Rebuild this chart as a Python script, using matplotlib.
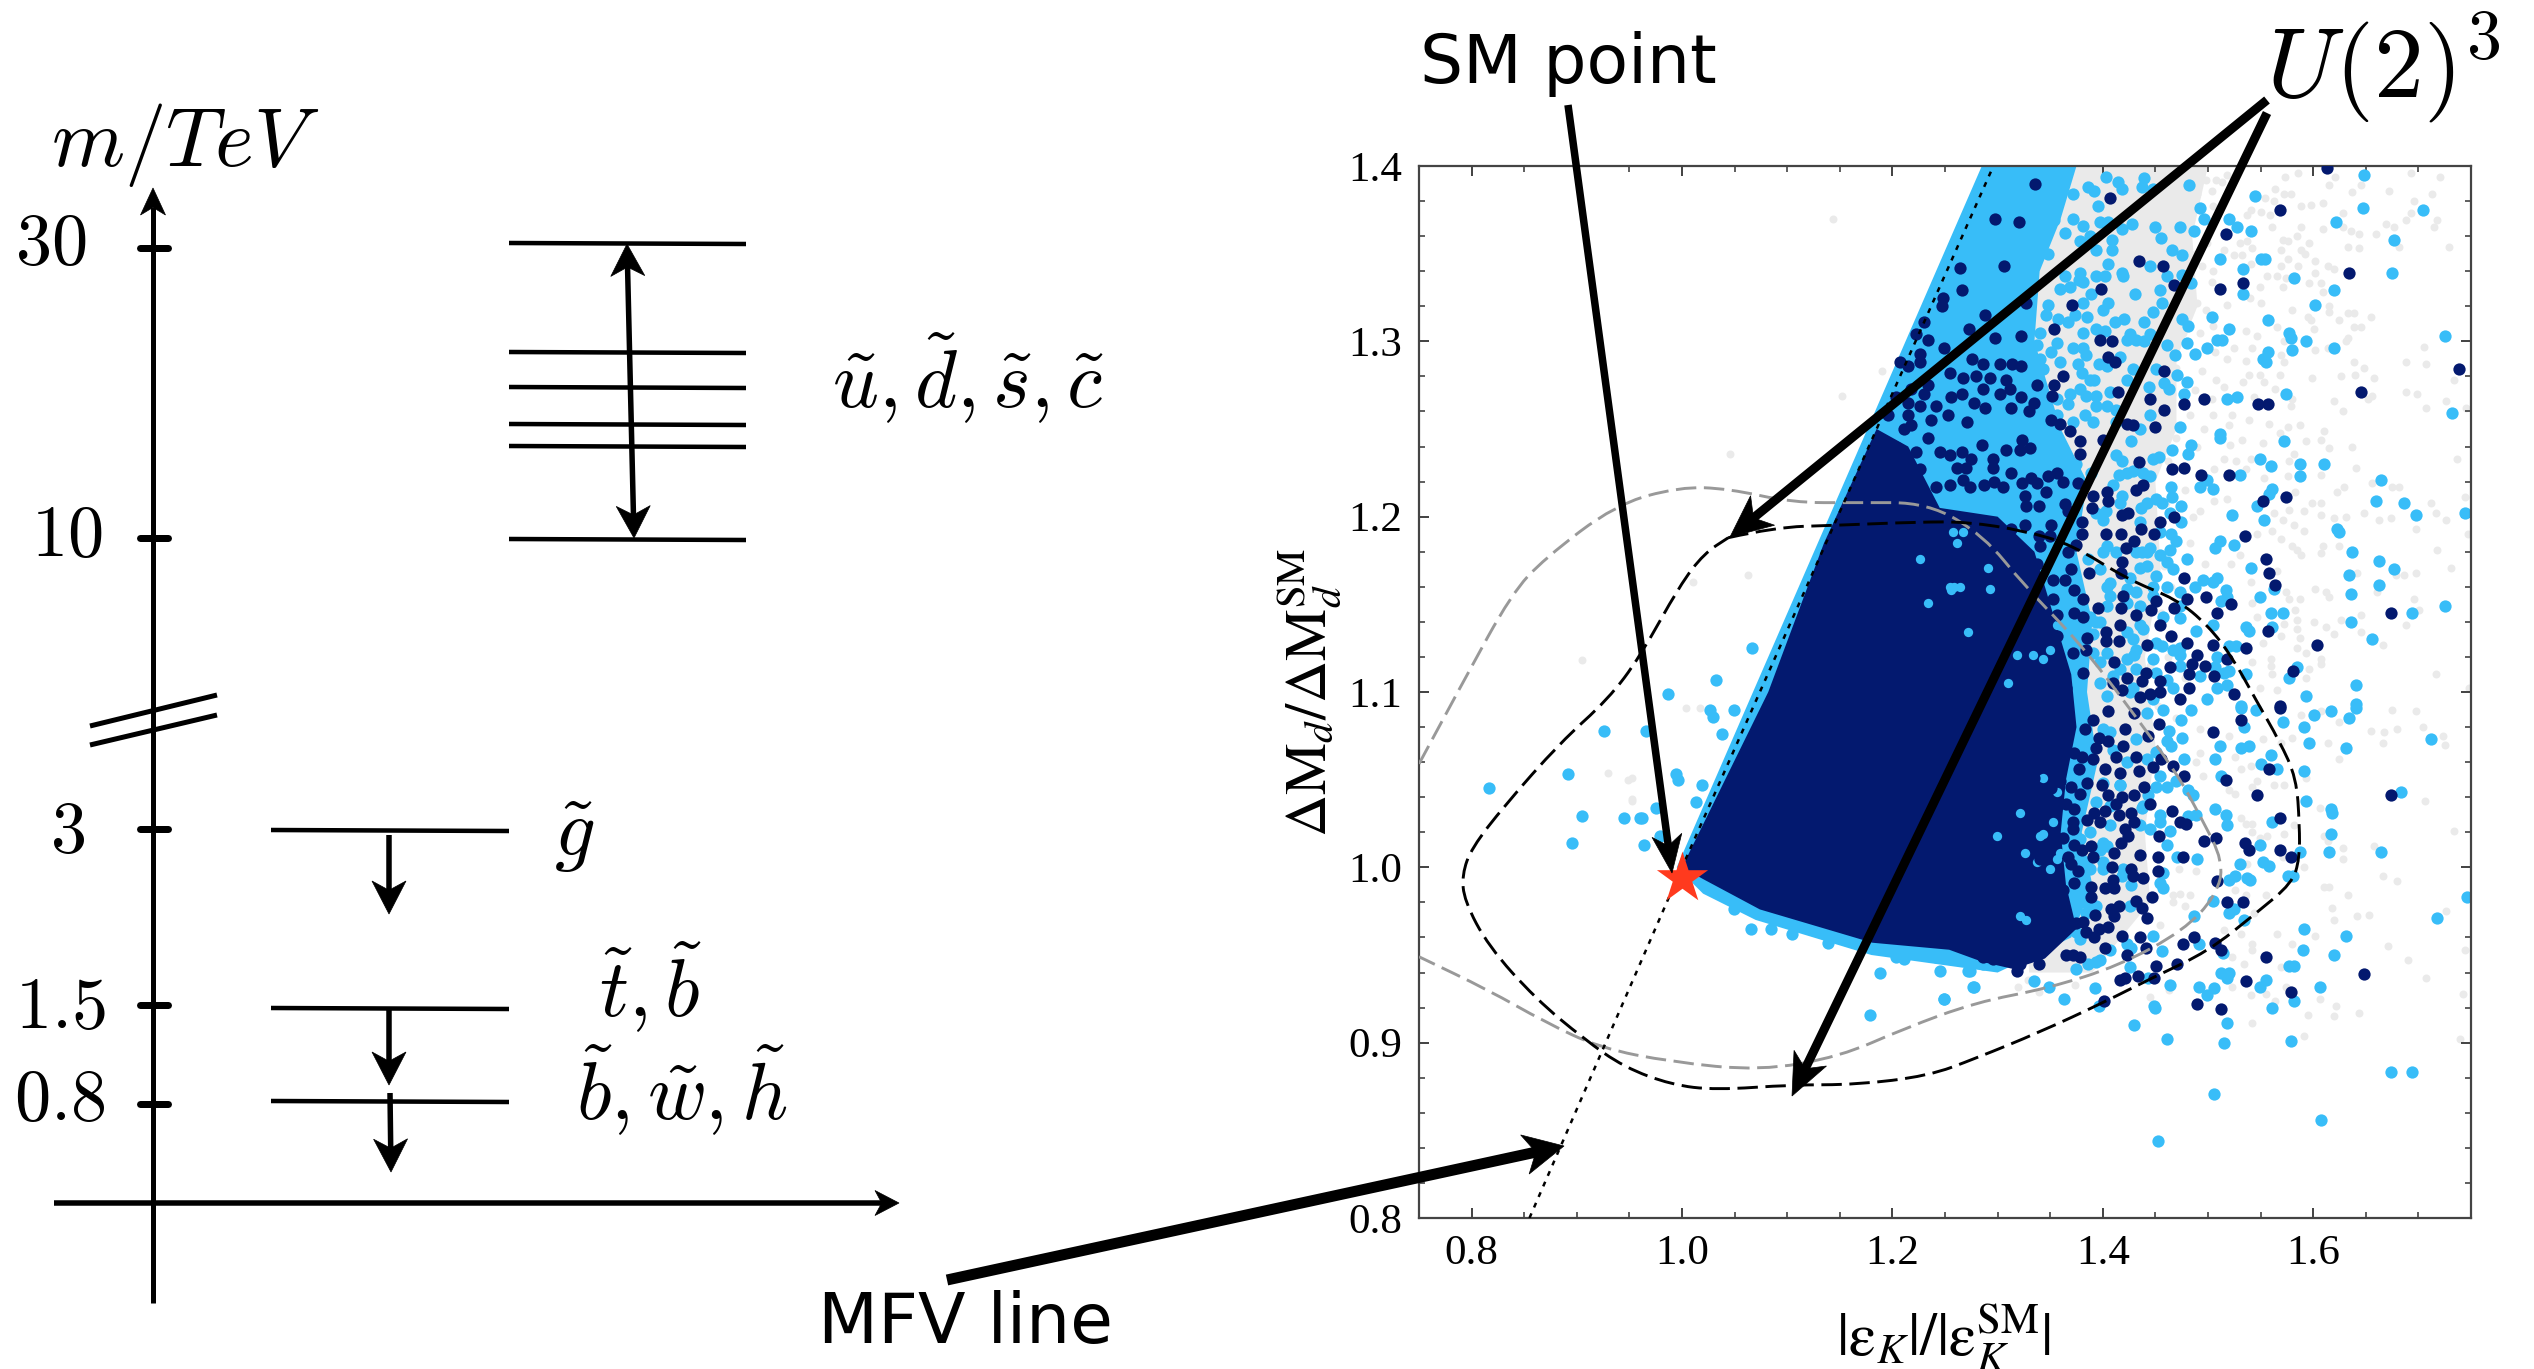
import numpy as np
import matplotlib
matplotlib.use('Agg')
import matplotlib.pyplot as plt
from matplotlib.patches import Polygon, PathPatch
from matplotlib.path import Path

plt.rcParams['font.family'] = ['Liberation Serif', 'DejaVu Sans']
plt.rcParams['mathtext.fontset'] = 'stix'

# ---------- spectrum data (left panel, mass levels in picture rows) ----------
mass_tick_labels = ['30', '10', '3', '1.5', '0.8']
mass_tick_rows = [248, 538, 829, 1005, 1104]
squark_levels = [243, 352, 387, 424, 446, 539]
light_levels = [830, 1008, 1101]

# ---------- scan: dense regions (outlines) ----------
gray_region = [(1.285,1.40),(1.50,1.40),(1.485,1.36),(1.49,1.32),(1.47,1.29),(1.47,1.25),(1.45,1.22),(1.455,1.17),(1.44,1.12),
               (1.45,1.07),(1.44,1.02),(1.445,0.98),(1.39,0.94),(1.33,0.94)]
blue_region = [(0.995,1.0),(1.285,1.40),(1.375,1.40),(1.36,1.37),(1.34,1.34),(1.335,1.30),(1.36,1.25),
               (1.385,1.22),(1.375,1.18),(1.39,1.14),(1.385,1.10),(1.395,1.06),(1.38,1.02),(1.39,0.99),(1.37,0.96),
               (1.30,0.94),(1.18,0.95),(1.07,0.97),(1.02,0.985)]
navy_region = [(1.0,1.0),(1.082,1.10),(1.135,1.185),(1.185,1.25),(1.215,1.24),(1.245,1.205),(1.30,1.20),(1.335,1.18),
               (1.35,1.15),(1.37,1.11),(1.375,1.08),(1.365,1.05),(1.36,1.02),(1.365,0.99),(1.375,0.965),
               (1.345,0.948),(1.315,0.942),(1.286,0.946),(1.254,0.953),(1.181,0.957),(1.074,0.976),(1.021,0.993)]

# ---------- scan: individual points ----------
blue_holes = [(1.264,1.160),(1.293,1.159),(1.291,1.171),(1.255,1.160),(1.256,1.158),(1.226,1.176),(1.234,1.151),
              (1.343,1.051),(1.356,1.043),(1.321,1.031),(1.343,1.019),(1.326,1.008),(1.356,1.005),(1.337,1.003),
              (1.359,1.008),(1.350,0.999),(1.327,0.970),(1.321,0.972),(1.353,1.026),(1.340,1.018),
              (1.258,1.191),(1.267,1.191),(1.261,1.185),(1.259,1.160),(1.272,1.134),(1.318,1.121),(1.334,1.121),
              (1.343,1.119),(1.350,1.124),(1.310,1.105),(1.362,1.147),(1.356,1.138),(1.299,1.018)]

navy_dots = [
(1.215,1.286),(1.226,1.288),(1.207,1.288),(1.218,1.273),(1.234,1.275),(1.226,1.263),(1.215,1.265),(1.241,1.263),
(1.218,1.252),(1.237,1.255),(1.234,1.245),(1.222,1.237),(1.245,1.237),(1.226,1.227),(1.241,1.217),(1.226,1.217),
(1.203,1.268),(1.196,1.258),(1.211,1.250),(1.203,1.240),(1.215,1.258),(1.230,1.270),(1.234,1.301),(1.226,1.293),
(1.222,1.304),(1.230,1.311),
(1.336,1.390),(1.407,1.382),(1.298,1.370),(1.320,1.368),(1.264,1.342),(1.306,1.343),(1.266,1.329),(1.434,1.346),
(1.457,1.343),(1.468,1.332),(1.398,1.330),(1.371,1.321),(1.327,1.322),(1.288,1.315),(1.273,1.307),(1.298,1.302),
(1.322,1.303),(1.354,1.307),(1.397,1.301),(1.409,1.300),(1.405,1.291),(1.412,1.288),(1.276,1.290),(1.302,1.287),
(1.314,1.287),(1.322,1.286),(1.286,1.287),(1.362,1.280),(1.458,1.283),(1.255,1.282),(1.267,1.279),(1.279,1.280),
(1.293,1.279),(1.308,1.278),(1.337,1.275),(1.354,1.275),(1.352,1.269),(1.414,1.271),(1.445,1.267),(1.496,1.267),
(1.477,1.264),(1.458,1.261),(1.286,1.273),(1.302,1.270),(1.312,1.273),(1.322,1.268),(1.335,1.265),(1.278,1.265),
(1.288,1.262),(1.313,1.262),(1.330,1.260),(1.256,1.268),(1.266,1.270),(1.253,1.258),(1.271,1.254),(1.351,1.255),
(1.359,1.253),(1.423,1.253),(1.429,1.252),(1.450,1.251),(1.369,1.249),(1.248,1.325),(1.247,1.320),(1.249,1.296),
(1.613,1.399),(1.568,1.375),(1.517,1.361),(1.634,1.339),(1.533,1.333),(1.511,1.330),(1.739,1.284),(1.645,1.271),
(1.548,1.264),(1.557,1.264),
(1.266,1.237),(1.255,1.235),(1.275,1.233),(1.285,1.241),(1.296,1.233),(1.308,1.238),(1.321,1.238),(1.331,1.239),
(1.323,1.244),(1.378,1.243),(1.378,1.236),(1.400,1.244),(1.434,1.231),(1.466,1.227),(1.477,1.228),(1.493,1.224),
(1.261,1.228),(1.270,1.228),(1.296,1.228),(1.313,1.225),(1.332,1.222),(1.348,1.223),(1.356,1.225),(1.362,1.220),
(1.376,1.219),(1.267,1.221),(1.255,1.218),(1.274,1.217),(1.287,1.218),(1.297,1.220),(1.305,1.217),(1.323,1.219),
(1.337,1.219),(1.346,1.214),(1.391,1.212),(1.404,1.214),(1.405,1.209),(1.432,1.215),(1.438,1.218),(1.326,1.212),
(1.339,1.206),(1.327,1.206),(1.364,1.207),(1.367,1.203),(1.390,1.205),(1.418,1.201),(1.424,1.202),(1.468,1.200),
(1.454,1.197),(1.436,1.193),(1.449,1.190),(1.403,1.190),(1.417,1.190),(1.430,1.186),(1.422,1.182),(1.380,1.190),
(1.380,1.197),(1.351,1.195),(1.326,1.195),(1.339,1.189),(1.350,1.189),(1.340,1.183),(1.375,1.184),(1.367,1.180),
(1.313,1.193),(1.315,1.185),(1.326,1.177),(1.337,1.173),(1.320,1.172),(1.370,1.170),(1.387,1.168),(1.417,1.168),
(1.418,1.174),(1.477,1.165),(1.498,1.154),(1.480,1.153),(1.451,1.152),(1.419,1.155),(1.353,1.164),(1.364,1.164),
(1.373,1.158),(1.381,1.153),(1.395,1.148),(1.417,1.148),(1.446,1.147),(1.468,1.148),(1.432,1.144),(1.373,1.145),
(1.381,1.143),(1.353,1.153),(1.356,1.144),(1.416,1.138),(1.454,1.138),(1.465,1.132),(1.403,1.134),(1.403,1.129),
(1.385,1.131),(1.415,1.129),(1.442,1.127),(1.480,1.128),(1.490,1.121),(1.356,1.132),(1.372,1.122),(1.384,1.124),
(1.356,1.119),(1.411,1.117),(1.464,1.114),(1.485,1.116),(1.497,1.115),(1.381,1.111),(1.441,1.111),(1.482,1.110),
(1.423,1.108),(1.437,1.106),(1.454,1.106),(1.410,1.105),(1.418,1.101),(1.454,1.100),(1.473,1.096),(1.482,1.102),
(1.435,1.097),(1.445,1.099),(1.365,1.102),
(1.520,1.224),(1.552,1.209),(1.574,1.211),(1.535,1.189),(1.555,1.176),(1.558,1.168),(1.564,1.161),(1.522,1.150),
(1.509,1.145),(1.557,1.135),(1.604,1.127),(1.674,1.145),(1.536,1.125),(1.505,1.127),(1.518,1.119),(1.581,1.112),
(1.506,1.109),(1.525,1.099),(1.568,1.092),
(1.354,1.089),(1.365,1.084),(1.365,1.079),(1.383,1.079),(1.391,1.084),(1.405,1.089),(1.430,1.088),(1.443,1.075),
(1.453,1.082),(1.421,1.079),(1.396,1.074),(1.405,1.072),(1.394,1.068),(1.419,1.069),(1.373,1.065),(1.380,1.063),
(1.432,1.063),(1.448,1.057),(1.455,1.062),(1.467,1.058),(1.477,1.052),(1.391,1.062),(1.402,1.056),(1.377,1.056),
(1.413,1.063),(1.416,1.054),(1.434,1.055),(1.335,1.051),(1.359,1.049),(1.385,1.048),(1.399,1.047),(1.439,1.046),
(1.351,1.045),(1.370,1.046),(1.337,1.042),(1.378,1.042),(1.405,1.041),(1.418,1.040),(1.430,1.041),(1.413,1.036),
(1.445,1.036),(1.365,1.036),(1.346,1.035),(1.373,1.033),(1.402,1.032),(1.392,1.031),(1.466,1.032),(1.415,1.030),
(1.427,1.031),(1.473,1.026),(1.479,1.025),(1.430,1.026),(1.372,1.026),(1.385,1.027),(1.397,1.026),(1.372,1.022),
(1.421,1.022),(1.424,1.018),(1.453,1.018),(1.496,1.015),(1.362,1.017),(1.373,1.013),(1.380,1.010),(1.389,1.012),
(1.417,1.014),(1.411,1.008),(1.391,1.006),(1.367,1.006),(1.340,1.005),(1.435,1.007),(1.452,1.006),(1.476,1.006),
(1.370,1.002),(1.376,0.998),(1.409,1.000),(1.427,0.999),(1.452,0.998),(1.340,0.994),(1.350,0.993),(1.429,0.995),
(1.438,0.994),(1.373,0.991),(1.410,0.993),(1.389,0.989),(1.402,0.988),(1.411,0.988),(1.362,0.987),(1.340,0.984),
(1.389,0.983),(1.447,0.983),(1.432,0.981),(1.415,0.978),(1.437,0.977),(1.408,0.976),(1.393,0.973),(1.411,0.972),
(1.442,0.971),(1.353,0.974),(1.375,0.968),(1.381,0.969),(1.396,0.965),(1.405,0.966),(1.384,0.963),(1.418,0.961),
(1.435,0.960),(1.487,0.960),(1.402,0.954),(1.392,0.960),(1.441,0.954),(1.476,0.956),(1.423,0.950),(1.372,0.950),
(1.365,0.950),(1.378,0.949),(1.331,0.950),(1.286,0.949),(1.296,0.948),(1.321,0.945),(1.318,0.941),(1.339,0.945),
(1.451,0.944),(1.471,0.945),
(1.568,1.091),(1.531,1.084),(1.505,1.077),(1.558,1.056),(1.517,1.050),(1.547,1.041),(1.674,1.041),(1.568,1.028),
(1.508,1.017),(1.535,1.014),(1.539,1.010),(1.568,1.010),(1.579,1.006),(1.509,0.992),(1.518,0.980),(1.533,0.980),
(1.507,0.957),(1.512,0.953),(1.555,0.949),(1.648,0.939),
(1.416,0.936),(1.421,0.937),(1.433,0.938),(1.449,0.937),(1.401,0.924),(1.490,0.922),(1.536,0.935),(1.579,0.929),
(1.512,0.919)]

blue_dots = [
(1.389,1.225),(1.410,1.218),(1.423,1.225),(1.438,1.225),(1.416,1.208),(1.394,1.202),(1.442,1.208),(1.456,1.208),
(1.464,1.202),(1.435,1.197),(1.454,1.191),(1.404,1.183),(1.432,1.180),(1.442,1.180),(1.413,1.180),(1.454,1.178),
(1.397,1.170),(1.442,1.172),(1.461,1.174),(1.404,1.160),(1.423,1.159),(1.448,1.160),(1.461,1.160),(1.378,1.151),
(1.388,1.143),(1.404,1.149),(1.423,1.151),(1.435,1.149),(1.448,1.155),(1.457,1.143),(1.473,1.149),(1.435,1.138),
(1.397,1.140),(1.423,1.134),(1.451,1.128),(1.467,1.124),(1.432,1.124),(1.391,1.122),(1.397,1.117),(1.423,1.119),
(1.448,1.119),(1.473,1.121),(1.461,1.107),(1.432,1.113),(1.416,1.113),(1.397,1.105),(1.404,1.098),(1.448,1.096),
(1.467,1.102),(1.429,1.102),
(1.400,1.079),(1.407,1.077),(1.432,1.073),(1.410,1.067),(1.423,1.060),(1.442,1.062),(1.400,1.048),(1.416,1.047),
(1.438,1.035),(1.394,1.037),(1.407,1.035),(1.388,1.020),(1.407,1.024),(1.435,1.024),(1.397,1.010),(1.404,1.012),
(1.384,1.003),(1.400,1.003),(1.419,0.999),(1.381,0.993),(1.457,0.997),(1.384,0.980),(1.394,0.978),(1.426,0.978),
(1.384,0.974),(1.378,0.959),(1.407,0.953),(1.394,0.946),
(1.337,1.381),(1.372,1.384),(1.337,1.368),(1.388,1.360),(1.419,1.337),(1.381,1.334),(1.394,1.337),(1.423,1.301),
(1.432,1.301),(1.356,1.299),(1.340,1.290),(1.331,1.286),(1.343,1.284),(1.359,1.288),(1.384,1.292),(1.404,1.286),
(1.423,1.278),(1.388,1.278),(1.340,1.267),(1.356,1.267),(1.384,1.269),(1.394,1.263),(1.413,1.261),(1.337,1.256),
(1.372,1.254),(1.391,1.254),(1.413,1.254),(1.435,1.250),
(1.545,1.383),(1.648,1.395),(1.647,1.376),(1.704,1.375),(1.520,1.370),(1.528,1.365),(1.541,1.363),(1.622,1.368),
(1.677,1.358),(1.511,1.347),(1.550,1.347),(1.554,1.347),(1.533,1.341),(1.582,1.336),(1.675,1.339),(1.533,1.327),
(1.620,1.329),(1.602,1.321),(1.504,1.314),(1.557,1.312),(1.520,1.307),(1.577,1.305),(1.579,1.302),(1.725,1.303),
(1.593,1.300),(1.509,1.301),(1.513,1.301),(1.557,1.294),(1.580,1.295),(1.620,1.296),(1.552,1.290),(1.555,1.288),
(1.574,1.270),(1.518,1.267),(1.528,1.268),(1.732,1.259),(1.511,1.247),
(1.403,1.394),(1.414,1.391),(1.418,1.387),(1.439,1.393),(1.437,1.388),(1.448,1.387),(1.482,1.389),(1.386,1.388),
(1.392,1.386),(1.395,1.377),(1.492,1.376),(1.496,1.370),(1.473,1.365),(1.487,1.363),(1.450,1.365),(1.455,1.359),
(1.428,1.367),(1.397,1.368),(1.405,1.368),(1.418,1.364),(1.372,1.370),(1.381,1.366),(1.364,1.362),(1.354,1.369),
(1.343,1.362),(1.378,1.357),(1.394,1.352),(1.409,1.358),(1.409,1.352),(1.348,1.350),(1.466,1.352),(1.475,1.349),
(1.405,1.344),(1.445,1.343),(1.418,1.339),(1.402,1.337),(1.378,1.339),(1.364,1.337),(1.377,1.335),(1.461,1.337),
(1.475,1.338),(1.484,1.333),(1.454,1.329),(1.431,1.327),(1.359,1.330),(1.369,1.331),(1.389,1.327),(1.381,1.322),
(1.405,1.322),(1.400,1.318),(1.456,1.322),(1.448,1.317),(1.385,1.314),(1.348,1.321),(1.346,1.315),(1.357,1.313),
(1.374,1.315),(1.367,1.311),(1.412,1.311),(1.420,1.313),(1.439,1.311),(1.475,1.313),(1.481,1.309),(1.381,1.305),
(1.394,1.307),(1.402,1.306),(1.426,1.304),(1.445,1.304),(1.439,1.300),(1.461,1.298),(1.480,1.299),(1.499,1.296),
(1.488,1.293),(1.469,1.292),(1.372,1.296),(1.381,1.296),(1.340,1.305),(1.337,1.298),(1.351,1.294),(1.376,1.287),
(1.396,1.287),(1.429,1.284),(1.416,1.291),(1.451,1.284),(1.471,1.281),(1.480,1.277),(1.458,1.276),(1.463,1.273),
(1.477,1.270),(1.444,1.274),(1.380,1.282),(1.392,1.278),(1.407,1.271),(1.378,1.273),(1.369,1.270),(1.394,1.269),
(1.367,1.264),(1.404,1.263),(1.383,1.258),(1.445,1.258),(1.473,1.251),(1.356,1.258),(1.321,1.256),
(1.354,1.243),(1.348,1.236),(1.365,1.232),(1.327,1.230),(1.375,1.230),(1.413,1.235),(1.418,1.232),(1.448,1.233),
(1.453,1.234),(1.427,1.243),(1.466,1.238),(1.481,1.236),(1.484,1.241),(1.429,1.226),(1.415,1.224),(1.445,1.223),
(1.499,1.221),(1.465,1.217),(1.492,1.217),(1.451,1.210),(1.466,1.211),(1.418,1.212),(1.474,1.206),(1.436,1.205),
(1.403,1.203),(1.400,1.198),(1.474,1.197),(1.465,1.190),(1.470,1.186),(1.445,1.182),(1.400,1.180),(1.437,1.180),
(1.464,1.181),(1.480,1.176),(1.467,1.170),(1.451,1.166),(1.435,1.171),(1.426,1.165),(1.407,1.162),(1.386,1.176),
(1.495,1.164),(1.488,1.160),(1.473,1.157),(1.432,1.157),(1.407,1.155),(1.473,1.142),(1.489,1.135),(1.438,1.136),
(1.429,1.130),(1.456,1.126),(1.473,1.125),(1.404,1.122),(1.430,1.121),(1.451,1.111),(1.410,1.109),(1.473,1.115),
(1.492,1.109),(1.426,1.100),(1.499,1.096),(1.391,1.133),(1.381,1.140),(1.394,1.140),
(1.511,1.245),(1.572,1.243),(1.549,1.233),(1.560,1.229),(1.587,1.230),(1.610,1.230),(1.587,1.223),(1.530,1.224),
(1.505,1.216),(1.561,1.216),(1.558,1.213),(1.664,1.221),(1.547,1.206),(1.660,1.209),(1.686,1.208),(1.698,1.201),
(1.523,1.201),(1.553,1.198),(1.744,1.202),(1.623,1.193),(1.625,1.191),(1.511,1.186),(1.525,1.184),(1.507,1.182),
(1.637,1.180),(1.663,1.175),(1.541,1.171),(1.677,1.170),(1.634,1.167),(1.663,1.161),(1.509,1.165),(1.505,1.163),
(1.517,1.158),(1.563,1.159),(1.636,1.156),(1.549,1.154),(1.512,1.152),(1.518,1.154),(1.725,1.149),(1.560,1.145),
(1.571,1.145),(1.694,1.145),(1.636,1.140),(1.505,1.138),(1.536,1.137),(1.539,1.135),(1.561,1.137),(1.656,1.130),
(1.520,1.126),(1.527,1.126),(1.509,1.120),(1.585,1.114),(1.507,1.114),(1.515,1.111),(1.520,1.112),(1.536,1.110),
(1.577,1.108),(1.518,1.104),(1.509,1.102),(1.641,1.104),(1.593,1.098),(1.531,1.092),(1.641,1.093),
(1.442,1.088),(1.457,1.090),(1.484,1.090),(1.474,1.084),(1.463,1.078),(1.475,1.074),(1.461,1.072),(1.465,1.069),
(1.451,1.066),(1.477,1.062),(1.454,1.052),(1.470,1.049),(1.451,1.046),(1.461,1.046),(1.481,1.044),(1.486,1.041),
(1.443,1.041),(1.416,1.047),(1.437,1.034),(1.454,1.030),(1.454,1.026),(1.481,1.029),(1.489,1.030),(1.445,1.022),
(1.464,1.021),(1.461,1.013),(1.471,1.006),(1.490,1.005),(1.397,1.011),(1.400,1.014),(1.378,1.016),(1.388,0.999),
(1.400,0.999),(1.365,0.998),(1.418,0.995),(1.454,0.991),(1.457,0.988),(1.427,0.990),(1.372,0.984),(1.381,0.980),
(1.388,0.976),(1.487,0.972),(1.375,0.963),(1.448,0.961),(1.427,0.954),(1.423,0.956),(1.456,0.952),(1.491,0.956),
(1.262,0.949),(1.251,0.952),(1.274,0.941),(1.286,0.945),(1.375,0.942),(1.386,0.945),(1.397,0.947),(1.426,0.943),
(1.531,1.091),(1.546,1.090),(1.601,1.087),(1.617,1.089),(1.641,1.091),(1.634,1.085),(1.571,1.083),(1.591,1.080),
(1.534,1.080),(1.712,1.073),(1.596,1.071),(1.631,1.068),(1.511,1.069),(1.531,1.068),(1.539,1.069),(1.560,1.064),
(1.507,1.062),(1.550,1.059),(1.566,1.056),(1.591,1.055),(1.512,1.052),(1.683,1.043),(1.593,1.038),(1.507,1.033),
(1.517,1.030),(1.617,1.033),(1.618,1.031),(1.561,1.026),(1.518,1.024),(1.617,1.019),(1.549,1.013),(1.587,1.009),
(1.615,1.009),(1.664,1.009),(1.530,1.002),(1.552,1.003),(1.558,1.001),(1.526,0.995),(1.520,0.993),(1.537,0.994),
(1.540,0.993),(1.576,0.995),(1.581,0.995),(1.746,0.983),(1.505,0.981),(1.525,0.976),(1.520,0.974),(1.718,0.971),
(1.534,0.970),(1.591,0.965),(1.631,0.961),(1.590,0.953),(1.514,0.951),(1.620,0.950),(1.577,0.944),(1.582,0.944),
(1.512,0.940),(1.520,0.940),
(1.277,0.932),(1.249,0.925),(1.335,0.935),(1.349,0.932),(1.363,0.925),(1.393,0.931),(1.396,0.921),(1.430,0.910),
(1.449,0.921),(1.450,0.920),(1.464,0.933),(1.461,0.902),(1.452,0.844),(1.491,0.932),(1.499,0.927),(1.443,0.937),
(1.506,0.931),(1.518,0.911),(1.515,0.900),(1.506,0.871),(1.549,0.932),(1.555,0.936),(1.582,0.924),(1.561,0.920),
(1.606,0.932),(1.579,0.901),(1.607,0.856),(1.674,0.883),(1.694,0.883),(1.518,0.937),
(1.067,1.125),(1.032,1.107),(0.987,1.099),(1.027,1.090),(1.029,1.086),(1.049,1.090),(0.926,1.078),(0.966,1.078),
(1.038,1.076),(0.994,1.053),(0.892,1.053),(0.817,1.045),(1.019,1.047),(0.905,1.029),(0.975,1.034),(0.960,1.028),
(0.945,1.028),(0.962,1.028),(0.895,1.014),(0.964,1.013),(0.979,1.018),(1.013,1.037),(0.996,1.050),(1.049,0.976),
(1.066,0.965),(1.085,0.965),(1.105,0.962),(1.135,0.964),(1.139,0.957),(1.188,0.940),(1.203,0.949),(1.211,0.948),
(1.245,0.941),(1.241,0.949),(1.272,0.941),(1.249,0.925),(1.278,0.932),(1.179,0.916)]

gray_dots = [
(1.573,1.394),(1.586,1.396),(1.621,1.394),(1.615,1.389),(1.645,1.389),(1.637,1.385),(1.672,1.386),(1.693,1.396),
(1.721,1.394),(1.713,1.384),(1.696,1.380),(1.564,1.387),(1.572,1.384),(1.579,1.384),(1.563,1.380),(1.554,1.382),
(1.588,1.377),(1.598,1.378),(1.609,1.379),(1.628,1.373),(1.541,1.375),(1.550,1.374),(1.537,1.372),(1.559,1.372),
(1.561,1.365),(1.588,1.365),(1.609,1.364),(1.628,1.365),(1.636,1.363),(1.644,1.361),(1.660,1.361),(1.669,1.367),
(1.677,1.365),(1.688,1.369),(1.693,1.373),(1.718,1.369),(1.715,1.365),(1.585,1.360),(1.571,1.358),(1.576,1.357),
(1.596,1.356),(1.588,1.352),(1.592,1.350),(1.633,1.354),(1.644,1.353),(1.682,1.354),(1.729,1.354),(1.569,1.352),
(1.542,1.353),(1.530,1.356),(1.537,1.357),(1.515,1.352),(1.525,1.349),(1.532,1.349),(1.602,1.346),(1.576,1.347),
(1.614,1.343),(1.620,1.341),(1.586,1.343),(1.569,1.343),(1.541,1.344),(1.602,1.339),(1.566,1.337),(1.574,1.336),
(1.556,1.337),(1.596,1.333),(1.607,1.333),(1.571,1.331),(1.609,1.328),(1.549,1.331),(1.540,1.325),(1.550,1.322),
(1.518,1.321),(1.580,1.318),(1.615,1.320),(1.615,1.317),(1.633,1.316),(1.639,1.316),(1.655,1.314),(1.595,1.314),
(1.598,1.312),(1.625,1.312),(1.601,1.307),(1.639,1.308),(1.645,1.308),(1.566,1.308),(1.547,1.303),(1.536,1.306),
(1.633,1.302),(1.631,1.300),(1.572,1.300),(1.542,1.296),(1.525,1.296),(1.602,1.295),(1.705,1.297),(1.614,1.296),
(1.569,1.292),(1.536,1.289),(1.518,1.290),(1.572,1.288),(1.639,1.288),(1.648,1.285),(1.688,1.288),(1.707,1.287),
(1.539,1.281),(1.549,1.281),(1.568,1.281),(1.640,1.281),(1.599,1.279),(1.626,1.280),(1.658,1.279),(1.533,1.277),
(1.553,1.277),(1.734,1.278),(1.564,1.273),(1.656,1.269),(1.652,1.267),(1.688,1.271),(1.699,1.270),(1.580,1.267),
(1.620,1.266),(1.726,1.266),(1.544,1.268),(1.579,1.263),(1.707,1.262),(1.745,1.262),(1.628,1.260),(1.523,1.258),
(1.539,1.255),(1.558,1.253),(1.587,1.252),(1.576,1.251),(1.610,1.249),(1.520,1.252),(1.568,1.248),
(1.508,1.392),(1.513,1.391),(1.518,1.395),(1.504,1.386),(1.505,1.377),(1.505,1.340),(1.504,1.334),(1.505,1.309),
(1.507,1.294),(1.508,1.278),(1.515,1.274),(1.504,1.267),(1.505,1.258),
(1.532,1.244),(1.521,1.241),(1.552,1.242),(1.593,1.243),(1.607,1.244),(1.615,1.239),(1.637,1.240),(1.582,1.236),
(1.515,1.233),(1.527,1.232),(1.541,1.233),(1.577,1.232),(1.641,1.228),(1.737,1.233),(1.506,1.227),(1.536,1.227),
(1.607,1.224),(1.576,1.223),(1.553,1.222),(1.629,1.217),(1.623,1.214),(1.583,1.214),(1.656,1.219),(1.675,1.217),
(1.682,1.217),(1.744,1.211),(1.599,1.208),(1.607,1.208),(1.712,1.208),(1.506,1.209),(1.518,1.210),(1.577,1.204),
(1.591,1.203),(1.563,1.202),(1.648,1.202),(1.717,1.202),(1.607,1.201),(1.620,1.199),(1.631,1.200),(1.663,1.198),
(1.674,1.199),(1.726,1.198),(1.571,1.198),(1.582,1.195),(1.591,1.192),(1.561,1.192),(1.698,1.193),(1.747,1.190),
(1.547,1.190),(1.569,1.187),(1.580,1.183),(1.609,1.183),(1.607,1.179),(1.625,1.183),(1.585,1.181),(1.588,1.178),
(1.718,1.181),(1.530,1.178),(1.522,1.173),(1.731,1.171),(1.566,1.169),(1.642,1.168),(1.679,1.167),(1.686,1.167),
(1.698,1.168),(1.541,1.163),(1.602,1.159),(1.612,1.157),(1.661,1.157),(1.574,1.157),(1.577,1.153),(1.587,1.153),
(1.615,1.154),(1.696,1.153),(1.542,1.151),(1.701,1.147),(1.645,1.144),(1.583,1.147),(1.626,1.141),(1.585,1.141),
(1.601,1.140),(1.547,1.143),(1.688,1.138),(1.612,1.137),(1.572,1.139),(1.585,1.136),(1.620,1.133),(1.645,1.134),
(1.569,1.132),(1.587,1.131),(1.552,1.128),(1.666,1.127),(1.585,1.125),(1.593,1.122),(1.560,1.119),(1.560,1.115),
(1.607,1.119),(1.607,1.116),(1.596,1.113),(1.542,1.117),(1.561,1.110),(1.717,1.110),(1.593,1.108),(1.549,1.102),
(1.566,1.101),(1.748,1.102),
(1.675,1.090),(1.698,1.089),(1.588,1.087),(1.607,1.089),(1.625,1.083),(1.655,1.078),(1.667,1.077),(1.680,1.079),
(1.704,1.080),(1.723,1.075),(1.725,1.070),(1.666,1.071),(1.614,1.071),(1.580,1.074),(1.552,1.073),(1.569,1.071),
(1.520,1.075),(1.625,1.062),(1.526,1.063),(1.531,1.056),(1.541,1.058),(1.593,1.051),(1.563,1.047),(1.572,1.047),
(1.542,1.046),(1.547,1.049),(1.526,1.042),(1.520,1.044),(1.606,1.034),(1.706,1.038),(1.531,1.028),(1.536,1.025),
(1.542,1.025),(1.542,1.020),(1.549,1.017),(1.556,1.018),(1.572,1.019),(1.582,1.024),(1.610,1.018),(1.614,1.015),
(1.734,1.021),(1.628,1.011),(1.628,1.005),(1.658,1.012),(1.571,1.006),(1.537,1.002),(1.591,1.000),(1.666,0.995),
(1.680,0.992),(1.610,0.989),(1.615,0.989),(1.633,0.984),(1.526,0.987),(1.536,0.984),(1.555,0.984),(1.618,0.977),
(1.653,0.973),(1.642,0.972),(1.726,0.975),(1.620,0.970),(1.544,0.974),(1.515,0.964),(1.566,0.962),(1.602,0.961),
(1.531,0.962),(1.542,0.956),(1.542,0.953),(1.580,0.956),(1.671,0.955),(1.744,0.953),(1.523,0.949),(1.534,0.945),
(1.690,0.947),(1.569,0.943),
(1.523,0.932),(1.541,0.927),(1.555,0.928),(1.574,0.932),(1.564,0.924),(1.606,0.925),(1.622,0.921),(1.595,0.916),
(1.620,0.915),(1.644,0.917),(1.542,0.911),(1.591,0.904),(1.707,0.937),(1.742,0.928),(1.740,0.902),
(1.319,0.932),(1.329,0.936),(1.339,0.929),(1.374,0.933),(1.445,0.926),(1.463,0.930),
(1.467,0.984),(1.473,0.985),(1.467,0.980),(1.478,0.978),(1.483,0.984),(1.454,0.967),(1.472,0.999),(1.489,0.998),
(1.492,1.079),(1.492,1.065),(1.489,1.060),(1.495,1.052),(1.486,1.200),(1.492,1.203),(1.483,1.185),(1.497,1.173),
(1.144,1.370),(1.152,1.269),(1.190,1.283),(1.046,1.236),(1.063,1.167),(1.010,1.163),(0.905,1.118),(1.017,1.091),
(1.004,1.091),(0.930,1.054),(0.952,1.038),(0.952,1.051),(0.949,1.050),(0.952,1.039),
(1.478,1.392),(1.490,1.384),(1.498,1.392),(1.470,1.378),(1.482,1.372),(1.499,1.356),(1.488,1.350),(1.494,1.343),
(1.470,1.322),(1.490,1.322),(1.498,1.318),(1.476,1.305),(1.492,1.305),(1.470,1.285),(1.494,1.283),(1.488,1.272),
(1.466,1.270),(1.483,1.258),(1.496,1.250),(1.470,1.245),(1.490,1.240),(1.462,1.232),(1.478,1.215),(1.460,1.208),
(1.458,1.172),(1.465,1.160),(1.455,1.145),(1.462,1.120),(1.445,1.115),(1.478,1.108),(1.452,1.092),(1.470,1.085)]

# ---------- contours and MFV line ----------
contour_black_x = [1.044,1.089,1.143,1.226,1.272,1.325,1.371,1.424,1.470,1.500,1.523,1.546,1.568,1.584,1.587,1.587,1.580,
                   1.546,1.500,1.447,1.401,1.340,1.279,1.234,1.165,1.105,1.032,0.990,0.945,0.907,0.861,0.816,0.793,0.791,
                   0.800,0.831,0.884,0.930,0.960,0.998,1.021,1.044]
contour_black_y = [1.188,1.194,1.195,1.197,1.197,1.192,1.184,1.164,1.153,1.138,1.120,1.095,1.072,1.051,1.024,1.005,0.991,
                   0.974,0.952,0.937,0.923,0.906,0.891,0.881,0.876,0.876,0.873,0.876,0.886,0.902,0.925,0.955,0.981,0.996,
                   1.011,1.035,1.071,1.096,1.120,1.161,1.179,1.188]
contour_gray_x = [0.75,0.793,0.838,0.869,0.937,0.998,1.044,1.105,1.165,1.234,1.287,1.325,1.378,1.424,1.470,1.492,1.515,
                  1.508,1.477,1.416,1.348,1.279,1.211,1.150,1.074,0.990,0.922,0.869,0.816,0.75]
contour_gray_y = [1.059,1.107,1.156,1.176,1.207,1.217,1.216,1.208,1.208,1.208,1.189,1.161,1.128,1.092,1.054,1.030,1.003,
                  0.984,0.964,0.944,0.931,0.923,0.908,0.892,0.884,0.889,0.897,0.912,0.930,0.949]
mfv_x = [0.855,1.0,1.296]
mfv_y = [0.80,1.0,1.40]
star_x, star_y = 1.0, 0.994

NAVY, BLUE, GRAY = '#03196F', '#38BDF8', '#EAEAEA'
W, H = 2534, 1369
fig = plt.figure(figsize=(W/100, H/100), dpi=100)

def smooth_path(xs, ys):
    """Quadratic curve through the read points, drawn by the path renderer."""
    p = np.column_stack([xs, ys])
    verts, codes = [p[0]], [Path.MOVETO]
    for i in range(1, len(p)-1):
        verts += [p[i], (p[i]+p[i+1])/2]
        codes += [Path.CURVE3, Path.CURVE3]
    verts.append(p[-1])
    codes.append(Path.LINETO)
    return Path(verts, codes)

# ---------- scatter panel ----------
L, R, T, B = 1419, 2471, 166, 1218
ax = fig.add_axes([L/W, 1-B/H, (R-L)/W, (B-T)/H], zorder=1)
ax.set_xlim(0.75, 1.75)
ax.set_ylim(0.8, 1.4)
ax.add_patch(Polygon(gray_region, fc=GRAY, ec='none', zorder=1))
g, b, n, h = np.array(gray_dots), np.array(blue_dots), np.array(navy_dots), np.array(blue_holes)
ax.scatter(g[:,0], g[:,1], s=33, c=GRAY, lw=0, zorder=1.5)
ax.add_patch(Polygon(blue_region, fc=BLUE, ec='none', zorder=2))
ax.scatter(b[:,0], b[:,1], s=78, c=BLUE, lw=0, zorder=2.5)
ax.add_patch(Polygon(navy_region, fc=NAVY, ec='none', zorder=3))
ax.scatter(h[:,0], h[:,1], s=45, c=BLUE, lw=0, zorder=3.2)
ax.scatter(n[:,0], n[:,1], s=78, c=NAVY, lw=0, zorder=3.5)
for xs, ys, col, zo in [(contour_gray_x, contour_gray_y, '#999999', 4), (contour_black_x, contour_black_y, 'black', 4.2)]:
    ax.add_patch(PathPatch(smooth_path(xs, ys), fc='none', ec=col, lw=2.1, linestyle=(0, (7, 2.6)), zorder=zo))
ax.plot(mfv_x, mfv_y, color='black', lw=1.8, dashes=(2, 2.6), zorder=4.3)
ax.scatter([star_x], [star_y], marker='*', s=1500, c='#FF3A1E', lw=0, zorder=5)
ax.set_xticks([0.8, 1.0, 1.2, 1.4, 1.6])
ax.set_yticks([0.8, 0.9, 1.0, 1.1, 1.2, 1.3, 1.4])
ax.set_xticks(np.arange(0.75, 1.751, 0.05), minor=True)
ax.set_yticks(np.arange(0.80, 1.401, 0.02), minor=True)
ax.tick_params(which='major', direction='in', length=7, width=1.3, top=True, right=True,
               labelsize=31, color='#333333', pad=12)
ax.tick_params(which='minor', direction='in', length=4, width=1.1, top=True, right=True, color='#333333')
for s in ax.spines.values():
    s.set_linewidth(1.6)
    s.set_color('#444444')

# ---------- overlay: spectrum and annotations, in picture pixels ----------
ov = fig.add_axes([0, 0, 1, 1], zorder=2)
ov.set_xlim(0, W)
ov.set_ylim(H, 0)
ov.axis('off')
ov.patch.set_alpha(0)
PX = 0.72

def arrow(x0, y0, x1, y1, lw, hw, hl, both=False):
    p0, p1 = np.array([x0, y0], float), np.array([x1, y1], float)
    d = (p1-p0)/np.hypot(*(p1-p0))
    nrm = np.array([-d[1], d[0]])
    def head(tip, dirn):
        back = tip-dirn*hl
        ov.add_patch(Polygon([tip, back+nrm*hw/2, tip-dirn*hl*0.72, back-nrm*hw/2], fc='k', ec='k', lw=0.5, zorder=3))
    a = p0 + (d*hl*0.7 if both else 0)
    e = p1 - d*hl*0.7
    ov.plot([a[0], e[0]], [a[1], e[1]], color='k', lw=lw*PX, solid_capstyle='butt', zorder=3)
    head(p1, d)
    if both:
        head(p0, -d)

# axes of the spectrum
arrow(153, 1303, 153, 188, 5, 25, 27)
arrow(54, 1203, 899, 1203, 5.5, 25, 24)
ov.plot([90, 217], [726, 695], color='k', lw=5*PX, solid_capstyle='butt')
ov.plot([90, 217], [745, 715], color='k', lw=5*PX, solid_capstyle='butt')
for r, lab, cx, off in zip(mass_tick_rows, mass_tick_labels, [51, 67, 67, 60, 60], [-1, 0, 5, 5, -2]):
    ov.plot([140, 168], [r, r], color='k', lw=7*PX, solid_capstyle='round')
    ov.text(cx, r+off, '$%s$' % lab, ha='center', va='center', fontsize=52, math_fontfamily='cm')
for r in squark_levels:
    ov.plot([509, 746], [r, r+1], color='k', lw=4.5*PX, solid_capstyle='butt')
for r in light_levels:
    ov.plot([271, 509], [r, r+1], color='k', lw=4.5*PX, solid_capstyle='butt')
arrow(627, 244, 634, 538, 5.5, 34, 32, both=True)
arrow(389, 835, 389, 914, 5.5, 34, 33)
arrow(389, 1007, 389, 1085, 5.5, 34, 33)
arrow(390, 1093, 391, 1172, 5.5, 34, 33)

ov.text(185, 145, r'$m/TeV$', ha='center', va='center', fontsize=60, math_fontfamily='cm')
ov.text(968, 378, r'$\tilde{u},\tilde{d},\tilde{s},\tilde{c}$', ha='center', va='center', fontsize=58, math_fontfamily='cm')
ov.text(574, 837, r'$\tilde{g}$', ha='center', va='center', fontsize=58, math_fontfamily='cm')
ov.text(650, 987, r'$\tilde{t},\tilde{b}$', ha='center', va='center', fontsize=58, math_fontfamily='cm')
ov.text(682, 1090, r'$\tilde{b},\tilde{w},\tilde{h}$', ha='center', va='center', fontsize=58, math_fontfamily='cm')

# annotation arrows
arrow(1568, 105, 1672, 873, 7.5, 30, 38)
arrow(2267, 100, 1730, 537, 9, 38, 42)
arrow(2267, 113, 1792, 1096, 9, 36, 42)
arrow(947, 1280, 1564, 1146, 11, 40, 40)

ov.text(1568, 64, 'SM point', ha='center', va='center', fontsize=49, family=['DejaVu Sans'])
ov.text(966, 1324, 'MFV line', ha='center', va='center', fontsize=50, family=['DejaVu Sans'])
ov.text(2383, 68, r'$U(2)^3$', ha='center', va='center', fontsize=72, math_fontfamily='cm')

ov.text(1944, 1338, r'$|\mathrm{\epsilon}_K|/|\mathrm{\epsilon}_K^{\mathrm{SM}}|$', ha='center', va='center', fontsize=44)
ov.text(1309, 692, r'$\mathrm{\Delta M}_d/\mathrm{\Delta M}_d^{\mathrm{SM}}$', ha='center', va='center',
        rotation=90, fontsize=42)

fig.savefig('out.png', dpi=100)
